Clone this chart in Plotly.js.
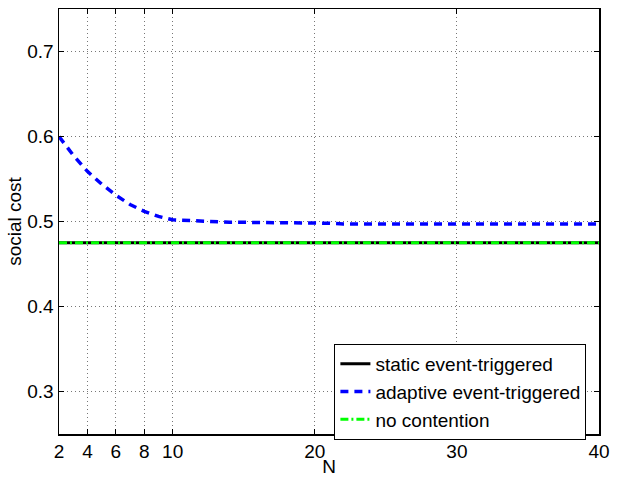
<!DOCTYPE html>
<html><head><meta charset="utf-8">
<script src="https://cdn.plot.ly/plotly-3.0.1.min.js"></script>
<style>body{margin:0;background:#fff}#g{width:618px;height:477px}</style>
</head><body><div id="g"></div>
<script>
const N = [2,3,4,5,6,7,8,9,10,11,12,13,14,15,16,17,18,19,20,21,22,23,24,25,26,27,28,29,30,31,32,33,34,35,36,37,38,39,40];
const staticCost = N.map(()=>0.475);
const adaptiveCost = [0.600,0.578,0.559,0.544,0.531,0.520,0.512,0.506,0.502,0.501,0.500,0.500,0.499,0.499,0.499,0.498,0.498,0.498,0.498,0.498,0.497,0.497,0.497,0.497,0.497,0.497,0.497,0.497,0.497,0.497,0.497,0.497,0.497,0.497,0.497,0.497,0.497,0.497,0.497];
const noContention = N.map(()=>0.475);
const xTicks = [2,4,6,8,10,20,30,40];
const yTicks = [0.3,0.4,0.5,0.6,0.7];
const names = ['static event-triggered','adaptive event-triggered','no contention'];

const FAM = '"Liberation Sans", Arial, sans-serif';
function mkFont(s){ return {family:FAM, size:s, color:'#000000'}; }

const traces = [
  {x:N, y:staticCost, name:names[0], mode:'lines', line:{color:'#000000', width:3}},
  {x:N, y:adaptiveCost, name:names[1], mode:'lines', line:{color:'#0000ff', width:3.5, dash:'8px,6px'}},
  {x:N, y:noContention, name:names[2], mode:'lines', line:{color:'#00ff00', width:3, dash:'8px,3px,2px,3px'}}
];
const layout = {
  width:618, height:477,
  margin:{l:59, r:19, t:9, b:43},
  paper_bgcolor:'#fff', plot_bgcolor:'#fff',
  font:mkFont(19),
  showlegend:true,
  legend:{x:0.51, y:0.212, xanchor:'left', yanchor:'top', bordercolor:'#000', borderwidth:1, bgcolor:'#fff', font:mkFont(19), tracegroupgap:0},
  xaxis:{range:[2,40], tickvals:xTicks, ticktext:xTicks.map(String), ticks:'inside', ticklen:5, tickcolor:'#000',
    showline:true, linecolor:'#000', linewidth:1.5, mirror:'ticks', showgrid:true, gridcolor:'#777', griddash:'1px,3px', gridwidth:1,
    zeroline:false, title:{text:'N', font:mkFont(19), standoff:0}, tickfont:mkFont(19)},
  yaxis:{range:[0.25,0.75], tickvals:yTicks, ticktext:yTicks.map(v=>v.toFixed(1)), ticks:'inside', ticklen:5, tickcolor:'#000',
    showline:true, linecolor:'#000', linewidth:1.5, mirror:'ticks', showgrid:true, gridcolor:'#777', griddash:'1px,3px', gridwidth:1,
    zeroline:false, title:{text:'social cost', font:mkFont(19), standoff:0}, tickfont:mkFont(19)}
};
Plotly.newPlot('g', traces, layout, {displayModeBar:false, staticPlot:true});
</script></body></html>
